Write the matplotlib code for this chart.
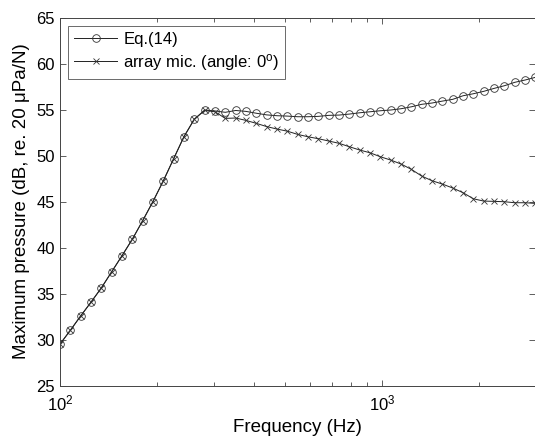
import matplotlib
matplotlib.use('Agg')
import matplotlib.pyplot as plt
from matplotlib.ticker import FixedLocator, FixedFormatter, NullFormatter

plt.rcParams['font.family'] = ['Liberation Sans', 'DejaVu Sans']
plt.rcParams['mathtext.fontset'] = 'custom'
plt.rcParams['mathtext.rm'] = 'Liberation Sans'
plt.rcParams['mathtext.it'] = 'Liberation Sans'

# frequencies (Hz)
freq = [100, 107.7, 115.9, 124.8, 134.4, 144.7, 155.8, 167.8, 180.6, 194.5,
        209.5, 225.5, 242.8, 261.5, 281.6, 303.2, 326.4, 351.5, 378.5, 407.5,
        438.8, 472.5, 508.8, 547.8, 589.9, 635.2, 683.9, 736.4, 793.0, 853.8,
        919.4, 989.9, 1065.9, 1147.7, 1235.8, 1330.6, 1432.8, 1542.8, 1661.2, 1788.7,
        1926.0, 2073.8, 2233.0, 2404.4, 2588.9, 2787.6, 3000]

eq14 = [29.5, 31.0, 32.55, 34.05, 35.6, 37.35, 39.1, 40.9, 42.9, 45.0,
        47.25, 49.65, 52.05, 53.95, 54.95, 54.85, 54.7, 54.9, 54.8, 54.6,
        54.42, 54.33, 54.29, 54.22, 54.22, 54.26, 54.37, 54.4, 54.51, 54.65,
        54.76, 54.87, 54.95, 55.09, 55.3, 55.57, 55.71, 55.92, 56.11, 56.5,
        56.72, 56.98, 57.3, 57.59, 57.96, 58.21, 58.5]

array_mic = [29.5, 31.0, 32.55, 34.05, 35.6, 37.35, 39.1, 40.9, 42.9, 45.0,
             47.25, 49.65, 52.05, 53.95, 54.9, 54.76, 54.04, 54.08, 53.82, 53.5,
             53.15, 52.88, 52.65, 52.3, 52.04, 51.83, 51.58, 51.33, 50.96, 50.6,
             50.3, 49.87, 49.51, 49.08, 48.5, 47.77, 47.26, 46.9, 46.47, 45.96,
             45.3, 45.05, 45.02, 44.98, 44.87, 44.87, 44.8]

xticks = [100, 1000]
xticklabels = ['$10^{2}$', '$10^{3}$']
yticks = [25, 30, 35, 40, 45, 50, 55, 60, 65]

fig = plt.figure(figsize=(5.35, 4.37), dpi=100)
ax = fig.add_axes([0.1121, 0.1178, 0.8885, 0.842])

ax.plot(freq, eq14, color='#222222', lw=0.7, marker='o', ms=5.5,
        mfc='none', mec='#333333', mew=0.6, label='Eq.(14)')
ax.plot(freq, array_mic, color='#222222', lw=0.7, marker='x', ms=4,
        mec='#333333', mew=0.6, label='array mic. (angle: 0$^{\\rm o}$)')

ax.set_xscale('log')
ax.set_xlim(100, 3000)
ax.set_ylim(25, 65)
ax.xaxis.set_major_locator(FixedLocator(xticks))
ax.xaxis.set_major_formatter(FixedFormatter(xticklabels))
ax.xaxis.set_minor_locator(FixedLocator([200, 300, 400, 500, 600, 700, 800, 900, 2000, 3000]))
ax.xaxis.set_minor_formatter(NullFormatter())
ax.set_yticks(yticks)

ax.tick_params(which='both', direction='in', top=True, right=True,
               labelsize=12, color='#444444', width=0.6)
ax.tick_params(which='major', length=4)
ax.tick_params(which='minor', length=3)
ax.tick_params(axis='x', pad=6)
for s in ax.spines.values():
    s.set_color('#444444')
    s.set_linewidth(0.7)

ax.set_xlabel('Frequency (Hz)', fontsize=13.5, labelpad=4)
ax.set_ylabel('Maximum pressure (dB, re. 20 μPa/N)', fontsize=13.5, labelpad=5)

leg = ax.legend(loc='upper left', fontsize=12, frameon=True, fancybox=False,
                edgecolor='#444444', borderaxespad=0.5, handlelength=2.6,
                handletextpad=0.35, borderpad=0.35, labelspacing=0.3)
leg.get_frame().set_linewidth(0.7)

fig.savefig('out.png', dpi=100)
